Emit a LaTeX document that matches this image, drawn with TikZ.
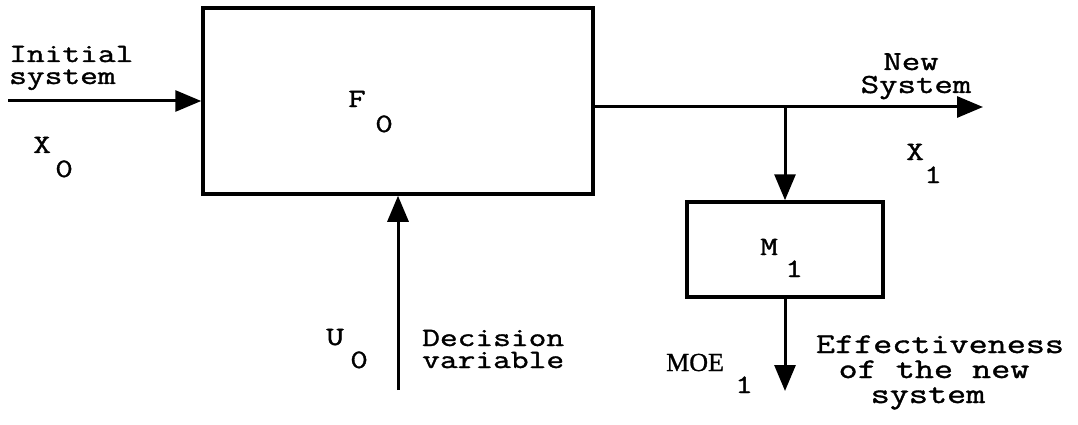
\documentclass[tikz,border=0pt]{standalone}
\usepackage{fontspec}
\newfontfamily\monofam[FakeStretch=1.3,FakeBold=1.3]{Latin Modern Mono}
\newfontfamily\seriffam[FakeBold=1]{Liberation Serif}
\usetikzlibrary{arrows.meta}
\begin{document}
\begin{tikzpicture}[x=1pt,y=-1pt,
  blockbox/.style={draw,line width=3.5pt,inner sep=0pt},
  flow/.style={line width=3pt,-{Triangle[length=26pt,width=21pt]}},
  lbl/.style={inner sep=0pt,anchor=base west,font=\monofam\fontsize{26.5}{26.5}\selectfont},
  lblc/.style={inner sep=0pt,anchor=base,font=\monofam\fontsize{27.5}{27.5}\selectfont},
  biglbl/.style={inner sep=0pt,anchor=base,font=\monofam\fontsize{28.5}{28.5}\selectfont},
]
\useasboundingbox (0,0) rectangle (1078,425);

% blocks
\node[blockbox,minimum width=390pt,minimum height=186pt] (F) at (398,101) {};
\node[blockbox,minimum width=196pt,minimum height=95pt] (M) at (785,249.5) {};

% free ends of the connectors
\coordinate (in0) at (8,101);
\coordinate (outEnd) at (983,107);
\coordinate (br) at (785,107);
\coordinate (moeEnd) at (785,391);
\coordinate (uStart) at (398,390);

% connectors
\draw[flow] (in0) -- (F.west);
\draw[flow] (F.east |- outEnd) -- (outEnd);
\draw[flow] (br) -- (M.north);
\draw[flow] (M.south) -- (moeEnd);
\draw[flow] (uStart) -- (F.south -| uStart);

% labels
\node[lbl] (initA) at (9,62) {Initial};
\node[lbl] (initB) at (9,84) {system};
\node[lbl] (x0) at (33,153) {X};
\node[lbl] (x0s) at (55,177) {0};
\node[lbl] (f0) at (348,107) {F};
\node[lbl] (f0s) at (375,132) {0};
\node[lblc] (newA) at (911,70) {New};
\node[lblc] (newB) at (916,93) {System};
\node[lbl] (x1) at (906,160) {X};
\node[lbl] (x1s) at (924,183) {1};
\node[lbl] (m1) at (760,255) {M};
\node[lbl] (m1s) at (785,277) {1};
\node[lbl] (u0) at (326,345) {U};
\node[lbl] (u0s) at (350,368) {0};
\node[lbl] (decA) at (422,346) {Decision};
\node[lbl] (decB) at (422,368) {variable};
\node[inner sep=0pt,anchor=base west,font=\seriffam\fontsize{26}{26}\selectfont] (moe) at (666,371) {MOE};
\node[lbl] (moes) at (735,393) {1};
\node[biglbl] (effA) at (940,353) {Effectiveness};
\node[biglbl] (effB) at (934,378) {of the new};
\node[biglbl] (effC) at (928,403) {system};
\end{tikzpicture}
\end{document}
